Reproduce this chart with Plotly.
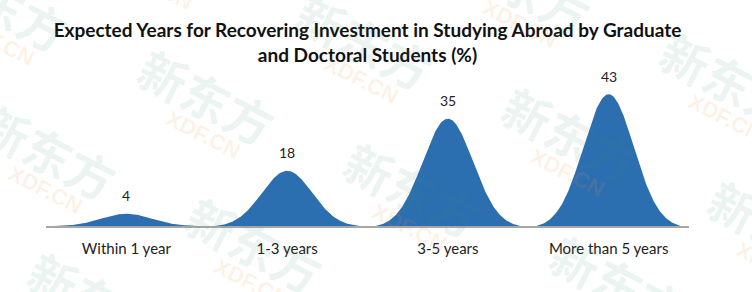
import numpy as np
import plotly.graph_objects as go

categories = ["Within 1 year", "1-3 years", "3-5 years", "More than 5 years"]
values = [4, 18, 35, 43]

FILL = "#2b6fb0"
FONT = "Lato"

# plot-area geometry (pixels) used to place the background watermark
L, R, T, B, W, H = 46, 63, 72, 66, 752, 292
PW, PH = W - L - R, H - T - B

# bell-shaped "peak" profile (truncated gaussian), scaled by each value
t = np.linspace(-1, 1, 241)
s = 0.348
g = np.exp(-t**2 / (2 * s**2))
g = (g - g[0]) / (1 - g[0])
half_width = 0.45

fig = go.Figure()
for i, v in enumerate(values):
    fig.add_trace(go.Scatter(
        x=i + half_width * t, y=v * g, mode="lines", fill="tozeroy",
        fillcolor=FILL, line=dict(width=0, color=FILL), hoverinfo="skip",
        showlegend=False))

for i, v in enumerate(values):
    fig.add_annotation(x=i, y=v, text=str(v), showarrow=False,
                       yanchor="middle", yshift=18,
                       font=dict(family=FONT, size=14, color="#222222"))

# faint repeating watermark "新东方 XDF.CN"
for i in range(-3, 5):
    for j in range(-2, 3):
        px = 207 + 158 * i + 48 * j
        py = 90 - 55 * i + 148 * j
        if -90 < px < W + 90 and -70 < py < H + 70:
            fig.add_annotation(
                x=(px - L) / PW, y=(H - B - py) / PH, xref="paper", yref="paper",
                text="新东方", showarrow=False, textangle=27,
                xanchor="center", yanchor="middle", yshift=-6,
                font=dict(family="Noto Sans CJK SC", size=48, weight="bold",
                          color="rgba(60,140,120,0.10)"))
            fig.add_annotation(
                x=(px - 4 - L) / PW, y=(H - B - py - 44) / PH, xref="paper", yref="paper",
                text="XDF.CN", showarrow=False, textangle=27,
                xanchor="center", yanchor="middle",
                font=dict(family="Liberation Sans", size=22, weight="bold",
                          color="rgba(245,150,60,0.12)"))

fig.update_layout(
    width=W, height=H,
    margin=dict(l=L, r=R, t=T, b=B),
    paper_bgcolor="white", plot_bgcolor="white",
    title=dict(text="Expected Years for Recovering Investment in Studying Abroad by Graduate<br>and Doctoral Students (%)",
               x=0.5, xref="paper", xanchor="center",
               y=1 - 37 / H, yref="container", yanchor="top",
               font=dict(family=FONT, size=19, color="#111111", weight="bold")),
    xaxis=dict(range=[-0.5, 3.5], tickvals=list(range(len(categories))),
               ticktext=categories, showline=True, linecolor="#a6a6a6",
               linewidth=2, ticks="", showgrid=False, zeroline=False,
               ticklabelstandoff=8,
               tickfont=dict(family=FONT, size=15, color="#222222")),
    yaxis=dict(range=[0, 50.2], visible=False),
)

fig.write_html("out.html")
